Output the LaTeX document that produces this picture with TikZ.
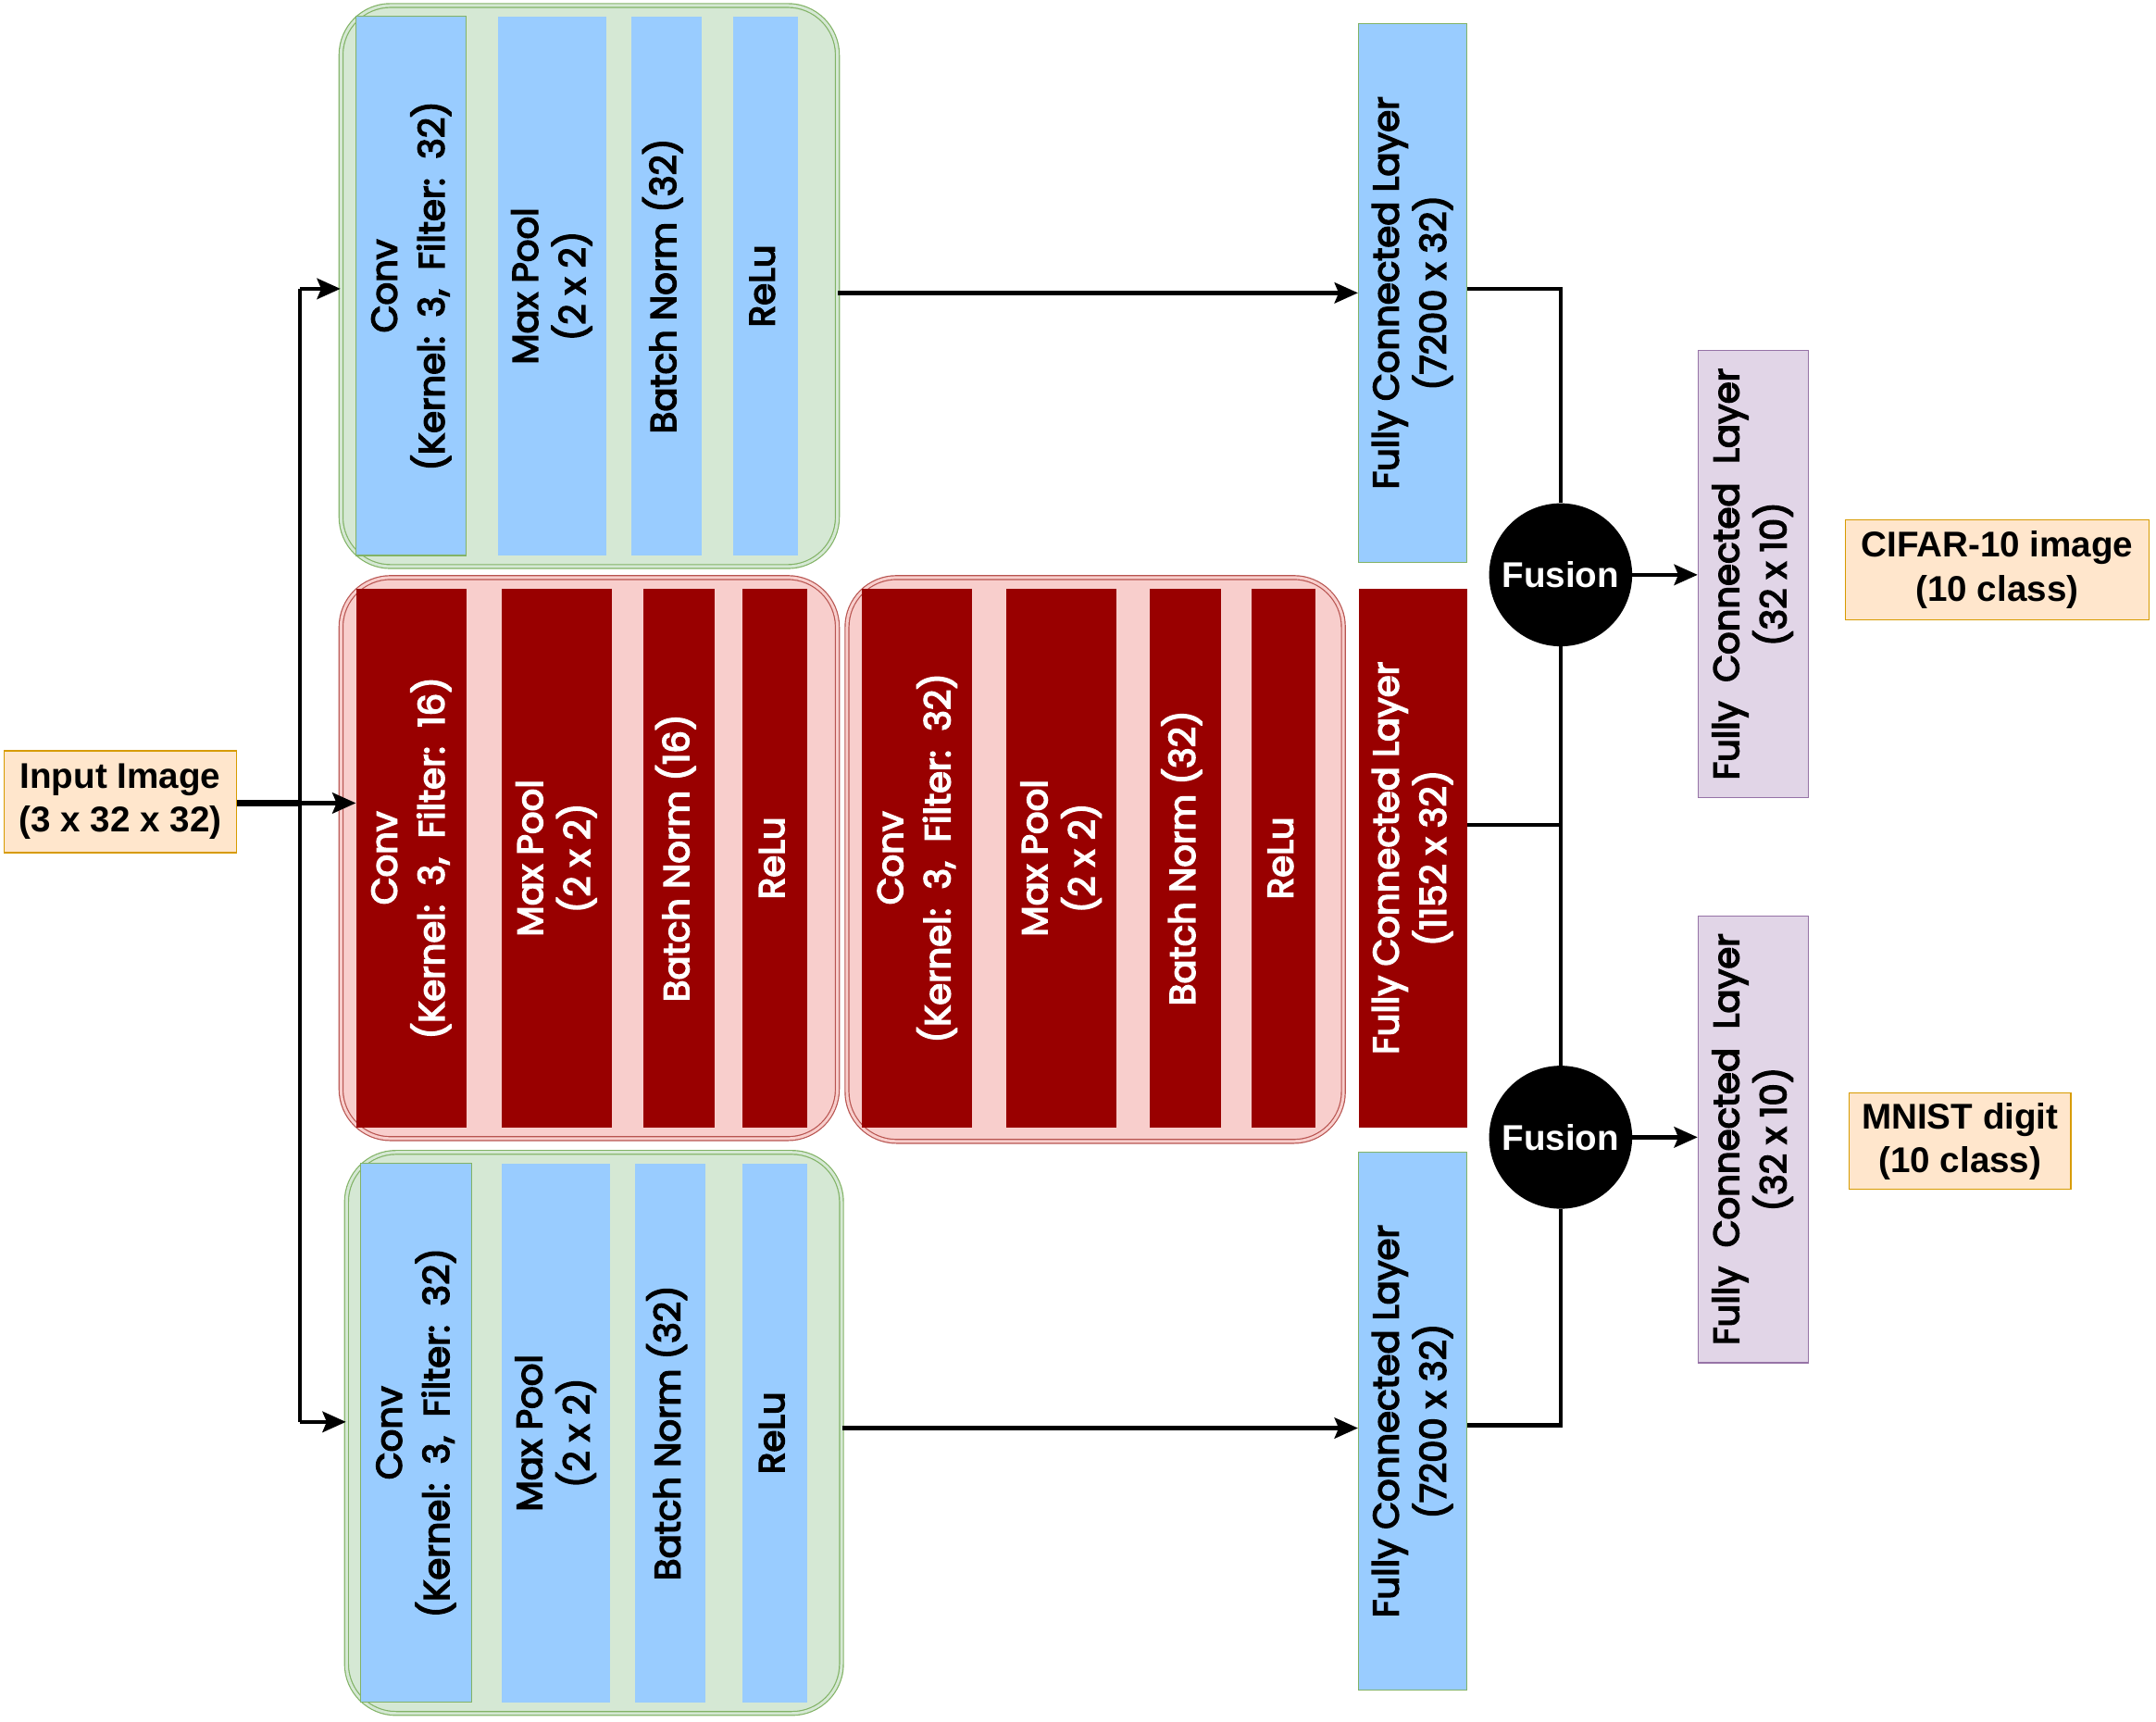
\documentclass[tikz,border=0pt]{standalone}
\usepackage{fontspec}
\setmainfont{Liberation Sans}
\newfontfamily\comic{Poppins}[FakeBold=4]
\usetikzlibrary{arrows.meta}
\definecolor{gfill}{HTML}{D5E8D4}
\definecolor{gline}{HTML}{82B366}
\definecolor{bfill}{HTML}{99CCFF}
\definecolor{rfill}{HTML}{F8CECC}
\definecolor{rline}{HTML}{B85450}
\definecolor{dred}{HTML}{990000}
\definecolor{pfill}{HTML}{E1D5E7}
\definecolor{pline}{HTML}{9673A6}
\definecolor{ofill}{HTML}{FFE6CC}
\definecolor{oline}{HTML}{D79B00}
\tikzset{
  gcont/.style={draw=gline, double=gfill, double distance=2pt, line width=0.8pt, fill=gfill, rounded corners=36pt, inner sep=0pt},
  rcont/.style={draw=rline, double=rfill, double distance=2pt, line width=0.8pt, fill=rfill, rounded corners=36pt, inner sep=0pt},
  layer/.style={rectangle, inner sep=0pt, font=\comic\fontsize{26}{34}\selectfont, align=center},
  bluebox/.style={layer, fill=bfill},
  redbox/.style={layer, fill=dred, text=white},
  purplebox/.style={layer, fill=pfill, draw=pline, line width=0.8pt},
  infobox/.style={rectangle, inner sep=0pt, fill=ofill, draw=oline, line width=0.8pt, font=\bfseries\fontsize{26}{32}\selectfont, align=center},
  fusion/.style={circle, fill=black, text=white, inner sep=0pt, minimum size=104pt, font=\bfseries\fontsize{26}{32}\selectfont},
  conn/.style={line width=3pt},
  arr/.style={line width=3pt, -{Stealth[length=17pt,width=15pt,inset=3pt]}},
}
\newcommand{\vlab}[1]{\rotatebox{90}{\begin{tabular}{@{}c@{}}#1\end{tabular}}}
\begin{document}
\begin{tikzpicture}[x=1pt,y=-1pt]
\path[fill=white] (0,0) rectangle (1568,1252);
\useasboundingbox (0,0) rectangle (1568,1252);

% containers
\node[gcont, minimum width=361pt, minimum height=408pt] (gC1) at (428.5,208) {};
\node[rcont, minimum width=361pt, minimum height=408pt] (rC1) at (428.5,624) {};
\node[rcont, minimum width=361pt, minimum height=410pt] (rC2) at (796.5,625) {};
\node[gcont, minimum width=360pt, minimum height=408pt] (gC2) at (432,1042) {};

% top branch
\node[bluebox, draw=gline, line width=0.8pt, minimum width=80pt, minimum height=392pt] (tConv) at (299,208) {\vlab{Conv\\(Kernel:\ \ 3,\ \ Filter:\ \ 32)}};
\node[bluebox, minimum width=79pt, minimum height=392pt] (tPool) at (401.5,208) {\vlab{Max Pool\\(2 x 2)}};
\node[bluebox, minimum width=51pt, minimum height=392pt] (tBN) at (484.5,208) {\vlab{Batch Norm (32)}};
\node[bluebox, minimum width=47pt, minimum height=392pt] (tReLU) at (556.5,208) {\vlab{ReLu}};

% middle branch
\node[redbox, minimum width=80pt, minimum height=392pt] (mConv1) at (299,624) {\vlab{Conv\\(Kernel:\ \ 3,\ \ Filter:\ \ 16)}};
\node[redbox, minimum width=80pt, minimum height=392pt] (mPool1) at (405,624) {\vlab{Max Pool\\(2 x 2)}};
\node[redbox, minimum width=52pt, minimum height=392pt] (mBN1) at (494,624) {\vlab{Batch Norm (16)}};
\node[redbox, minimum width=47pt, minimum height=392pt] (mReLU1) at (563.5,624) {\vlab{ReLu}};
\node[redbox, minimum width=80pt, minimum height=392pt] (mConv2) at (667,624) {\vlab{Conv\\(Kernel:\ \ 3,\ \ Filter:\ \ 32)}};
\node[redbox, minimum width=80pt, minimum height=392pt] (mPool2) at (772,624) {\vlab{Max Pool\\(2 x 2)}};
\node[redbox, minimum width=52pt, minimum height=392pt] (mBN2) at (862,624) {\vlab{Batch Norm (32)}};
\node[redbox, minimum width=47pt, minimum height=392pt] (mReLU2) at (933.5,624) {\vlab{ReLu}};
\node[redbox, minimum width=79pt, minimum height=392pt] (mFC) at (1027.5,624) {\vlab{Fully Connected Layer\\(1152 x 32)}};

% bottom branch
\node[bluebox, draw=gline, line width=0.8pt, minimum width=81pt, minimum height=392pt] (bConv) at (302.5,1042) {\vlab{Conv\\(Kernel:\ \ 3,\ \ Filter:\ \ 32)}};
\node[bluebox, minimum width=79pt, minimum height=392pt] (bPool) at (404.5,1042) {\vlab{Max Pool\\(2 x 2)}};
\node[bluebox, minimum width=51pt, minimum height=392pt] (bBN) at (487.5,1042) {\vlab{Batch Norm (32)}};
\node[bluebox, minimum width=47pt, minimum height=392pt] (bReLU) at (563.5,1042) {\vlab{ReLu}};

% fully connected blue
\node[bluebox, draw=gline, line width=0.8pt, minimum width=79pt, minimum height=392pt] (fcTop) at (1027.5,213) {\vlab{Fully Connected Layer\\(7200 x 32)}};
\node[bluebox, draw=gline, line width=0.8pt, minimum width=79pt, minimum height=391pt] (fcBot) at (1027.5,1033.5) {\vlab{Fully Connected Layer\\(7200 x 32)}};

% fusion
\node[fusion] (fus1) at (1135,418) {Fusion};
\node[fusion] (fus2) at (1135,827) {Fusion};

% output FC
\node[purplebox, minimum width=80pt, minimum height=325pt] (pFC1) at (1275,417.5) {\vlab{Fully\ \ Connected\ \ Layer\\(32 x 10)}};
\node[purplebox, minimum width=80pt, minimum height=325pt] (pFC2) at (1275,828.5) {\vlab{Fully\ \ Connected\ \ Layer\\(32 x 10)}};

% info boxes
\node[infobox, minimum width=169pt, minimum height=74pt] (input) at (87.5,583) {Input Image\\(3 x 32 x 32)};
\node[infobox, minimum width=221pt, minimum height=73pt] (cifar) at (1452.5,414.5) {CIFAR-10 image\\(10 class)};
\node[infobox, minimum width=161pt, minimum height=70pt] (mnist) at (1425.5,830) {MNIST digit\\(10 class)};

% connectors
\coordinate (busM) at (218,584);
\coordinate (busT) at (218,210);
\coordinate (busB) at (218,1034);
\coordinate (jn) at (1135,600);
\draw[line width=5pt] (input.east |- busM) -- (busM);
\draw[arr] (busM) -- (busM -| mConv1.west);
\draw[conn] (busT) -- (busB);
\draw[arr] (busT) -- (busT -| gC1.west);
\draw[arr] (busB) -- (busB -| gC2.west);
\draw[arr] (gC1.east |- fcTop.west) -- (fcTop.west);
\draw[arr] ([yshift=-5pt]gC2.east |- fcBot.west) -- ([yshift=-5pt]fcBot.west);
\draw[conn] ([yshift=3pt]fcTop.east) -| (fus1.north);
\draw[conn] ([yshift=-3pt]fcBot.east) -| (fus2.south);
\draw[conn] (fus1.south) -- (fus2.north);
\draw[conn] ([yshift=24pt]mFC.east) -- (jn);
\draw[arr] (fus1.east) -- (fus1.east -| pFC1.west);
\draw[arr] (fus2.east) -- (fus2.east -| pFC2.west);
\end{tikzpicture}
\end{document}
